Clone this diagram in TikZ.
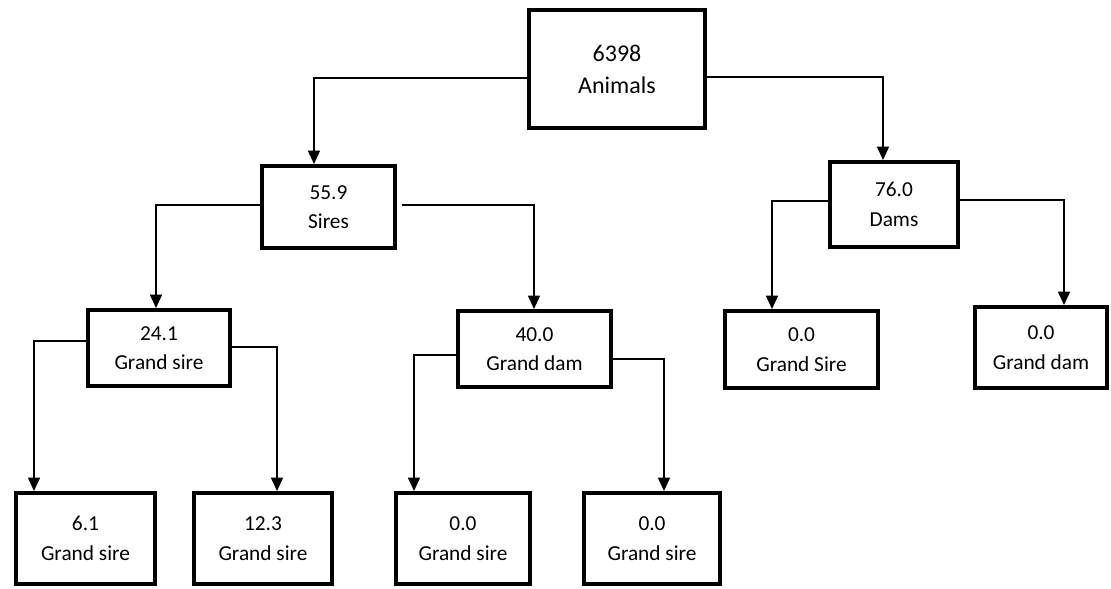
\documentclass[tikz,border=0pt]{standalone}
\usepackage{fontspec}
\setmainfont{Carlito}
\usetikzlibrary{arrows.meta,calc}
\begin{document}
\begin{tikzpicture}[x=0.75pt,y=-0.75pt,
  box/.style={draw=black,line width=3pt,fill=white,inner sep=0pt,align=center,
    font=\fontsize{16}{22}\selectfont},
  bigbox/.style={box,font=\fontsize{18}{24}\selectfont},
  conn/.style={line width=1.1pt,-{Triangle[width=9pt,length=10pt]}}]
\path[use as bounding box] (0,0) rectangle (1111,589);
% nodes
\node[bigbox,minimum width=132pt,minimum height=88.5pt] (an) at (617,69) {6398\\Animals};
\node[box,minimum width=99.75pt,minimum height=61.5pt] (sires) at (328.5,207) {55.9\\Sires};
\node[box,minimum width=96pt,minimum height=63.75pt] (dams) at (894,204.5) {76.0\\Dams};
\node[box,minimum width=106.5pt,minimum height=57pt] (g1) at (159,348) {24.1\\Grand sire};
\node[box,minimum width=114.75pt,minimum height=57pt] (g2) at (534.5,349) {40.0\\Grand dam};
\node[box,minimum width=114.75pt,minimum height=57.75pt] (g3) at (801.5,349.5) {0.0\\Grand Sire};
\node[box,minimum width=99pt,minimum height=60.75pt] (g4) at (1041,347.5) {0.0\\Grand dam};
\node[box,minimum width=104.25pt,minimum height=68.25pt] (b1) at (85.5,538.5) {6.1\\Grand sire};
\node[box,minimum width=103.5pt,minimum height=68.25pt] (b2) at (263,538.5) {12.3\\Grand sire};
\node[box,minimum width=100.5pt,minimum height=68.25pt] (b3) at (463,538.5) {0.0\\Grand sire};
\node[box,minimum width=102pt,minimum height=68.25pt] (b4) at (652,538.5) {0.0\\Grand sire};
% connectors
\draw[conn] ($(an.west)+(0,9)$) -| ($(sires.north)+(-14.5,0)$);
\draw[conn] ($(an.east)+(0,8)$) -| ($(dams.north)+(-11,0)$);
\draw[conn] ($(sires.west)+(0,-2)$) -| ($(g1.north)+(-3,0)$);
\draw[conn] ($(sires.east)+(5,-2)$) -| ($(g2.north)+(-0.5,0)$);
\draw[conn] ($(dams.west)+(0,-3.5)$) -| ($(g3.north)+(-29.5,0)$);
\draw[conn] ($(dams.east)+(0,-4.5)$) -| ($(g4.north)+(23,0)$);
\draw[conn] ($(g1.west)+(0,-7)$) -| ($(b1.north)+(-51.5,0)$);
\draw[conn] ($(g1.east)+(0,-1)$) -| ($(b2.north)+(14,0)$);
\draw[conn] ($(g2.west)+(0,6)$) -| ($(b3.north)+(-49,0)$);
\draw[conn] ($(g2.east)+(0,10)$) -| ($(b4.north)+(12,0)$);
\end{tikzpicture}
\end{document}
